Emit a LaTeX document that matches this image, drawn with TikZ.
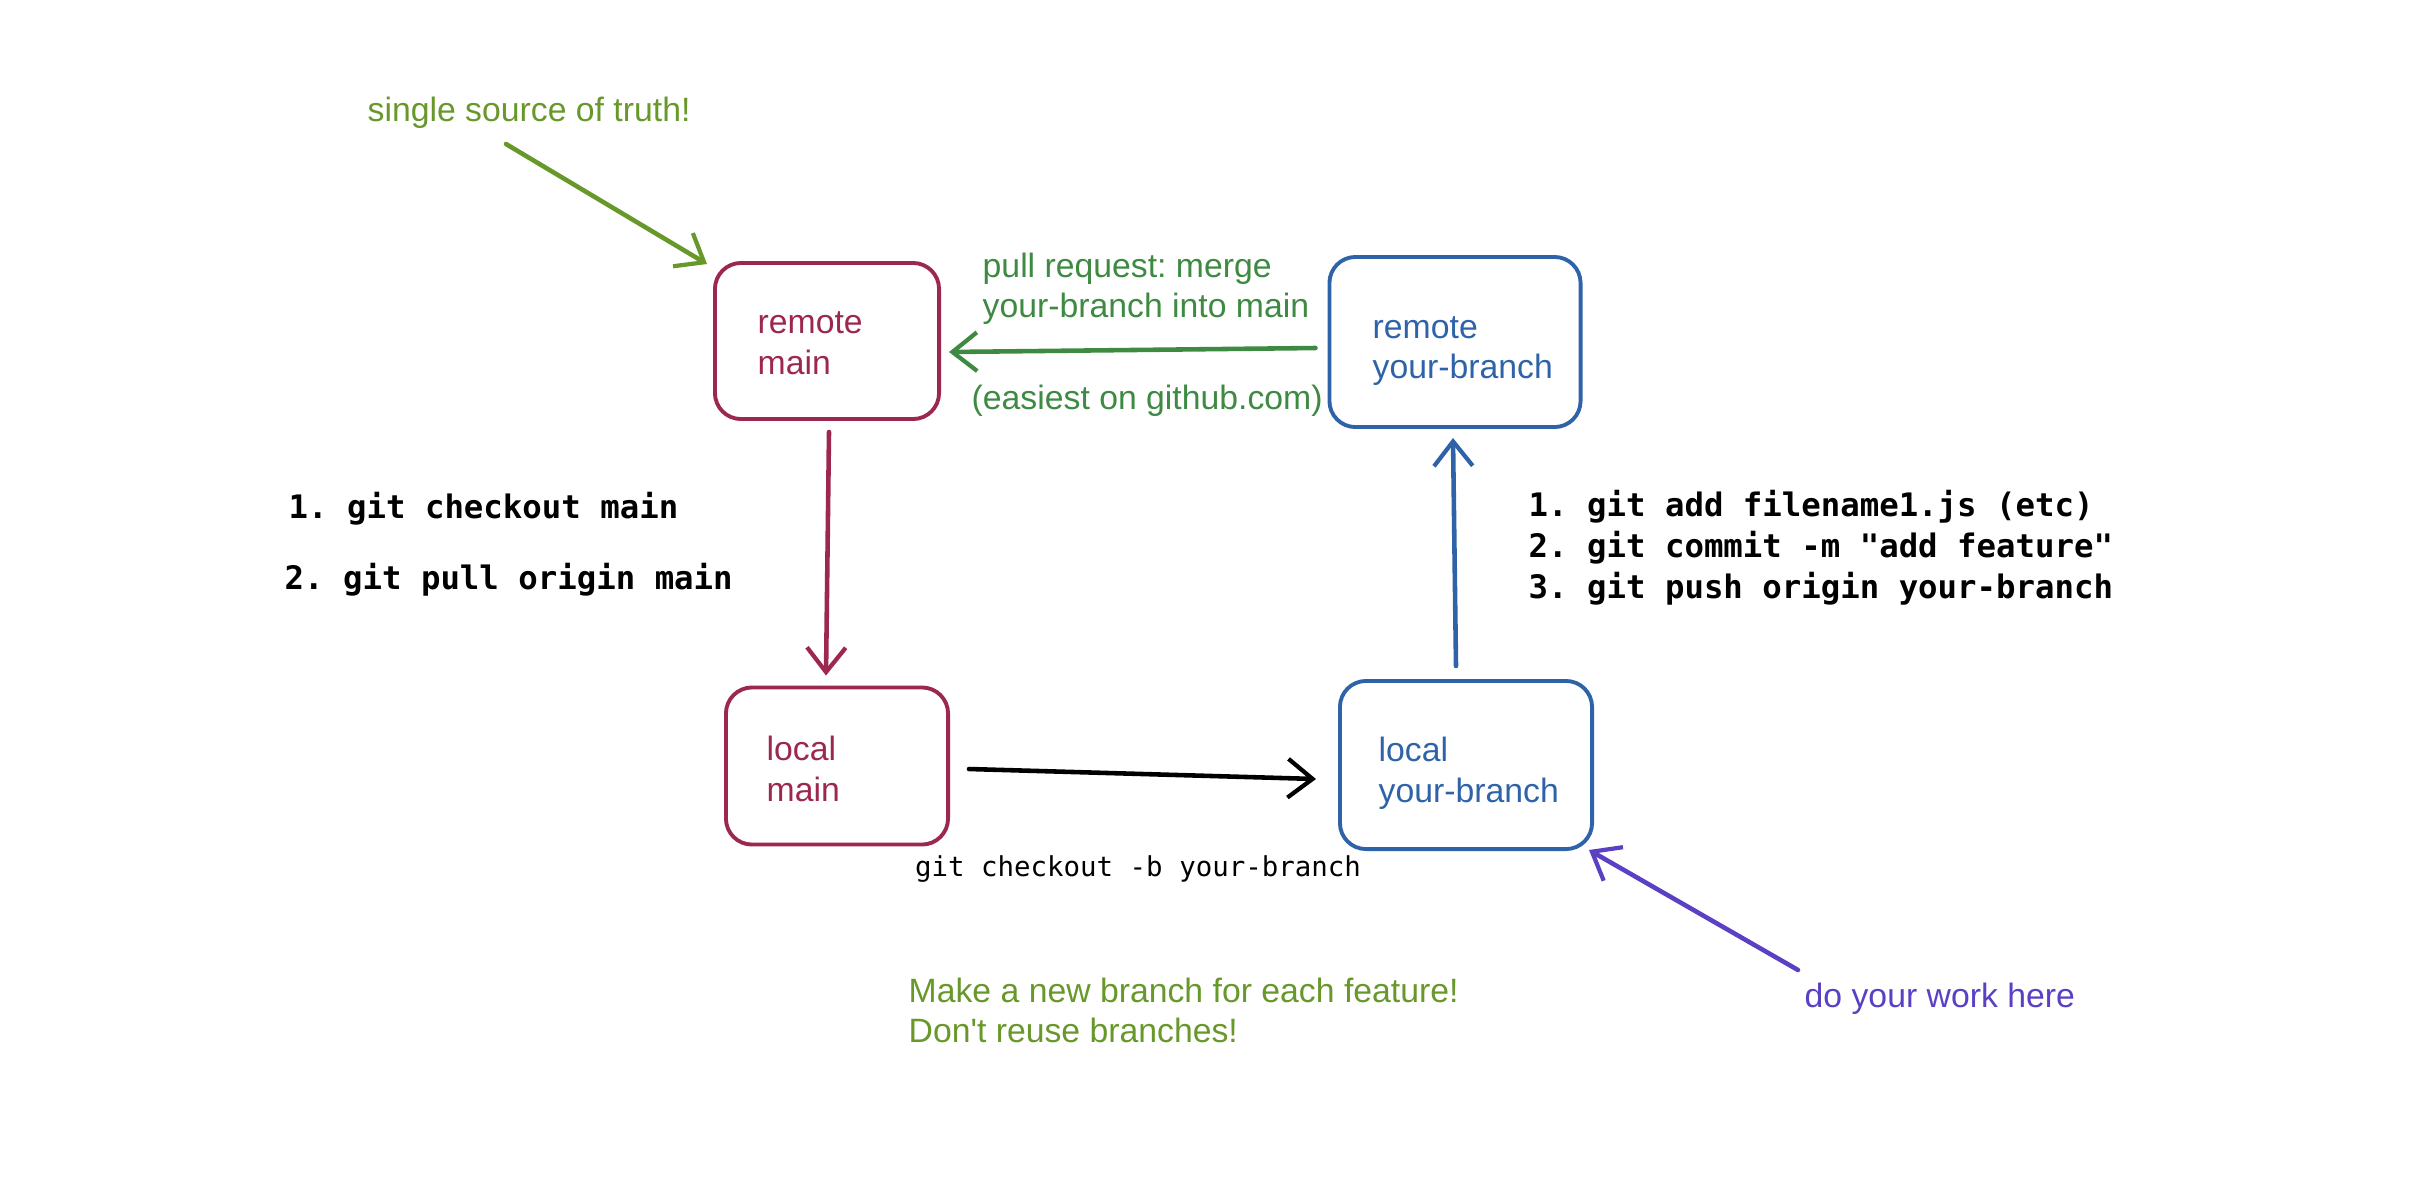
\documentclass[tikz,border=0pt]{standalone}
\usepackage{fontspec}
\setmainfont{Liberation Sans}
\newfontfamily\monofont{DejaVu Sans Mono}
\usetikzlibrary{arrows.meta}
\definecolor{crim}{RGB}{156,40,80}
\definecolor{bluec}{RGB}{46,99,168}
\definecolor{prgreen}{RGB}{62,138,66}
\definecolor{olive}{RGB}{104,152,42}
\definecolor{purp}{RGB}{92,64,196}
\frenchspacing
\begin{document}
\begin{tikzpicture}[x=0.01cm,y=-0.01cm,
  box/.style={draw, rounded corners=0.26cm, line width=1.1pt, inner sep=0pt},
  lbl/.style={anchor=west, align=left, inner sep=0pt, font=\fontsize{9.6}{11.6}\selectfont},
  note/.style={anchor=west, align=left, inner sep=0pt, font=\fontsize{9.6}{11.4}\selectfont},
  code/.style={anchor=west, align=left, inner sep=0pt, font=\monofont\bfseries\fontsize{9.2}{11.7}\selectfont},
  conn/.style={line width=1.3pt, line cap=round, -{Straight Barb[length=7pt,width=11pt,line width=1.2pt]}},
]
\useasboundingbox (0,0) rectangle (2426,1196);

% boxes
\node[box, crim, minimum width=2.24cm, minimum height=1.56cm] (rm) at (827,341) {};
\node[lbl, crim] (rmt) at (757,343) {remote\\main};
\node[box, bluec, minimum width=2.51cm, minimum height=1.70cm] (rb) at (1455,342) {};
\node[lbl, bluec] (rbt) at (1372,351) {remote\\your-branch};
\node[box, crim, minimum width=2.22cm, minimum height=1.57cm] (lm) at (837,766) {};
\node[lbl, crim] (lmt) at (766,769) {local\\main};
\node[box, bluec, minimum width=2.52cm, minimum height=1.68cm] (lb) at (1466,765) {};
\node[lbl, bluec] (lbt) at (1378,773) {local\\your-branch};

% annotations
\node[note, olive] (sst) at (367,113) {single source of truth!};
\coordinate (sstart) at (506,144);
\draw[conn, olive] (sstart) -- ([shift={(-6,3)}]rm.north west);

\node[note, prgreen] (pr) at (982,289) {pull request: merge\\your-branch into main};
\node[note, prgreen] (gh) at (971,401) {(easiest on github.com)};
\draw[conn, prgreen] ([shift={(-12,6)}]rb.west) -- ([shift={(8,11)}]rm.east);

\node[code] (lc1) at (288,509) {1. git checkout main};
\node[code] (lc2) at (284,580) {2. git pull origin main};
\draw[conn, crim] ([shift={(2,11)}]rm.south) -- ([shift={(-11,-10)}]lm.north);

\node[code] (rc) at (1528,548) {1. git add filename1.js (etc)\\2. git commit -m "add feature"\\3. git push origin your-branch};
\draw[conn, bluec] ([shift={(-10,-13)}]lb.north) -- ([shift={(-2,9)}]rb.south);

\draw[conn, black] ([shift={(19,3)}]lm.east) -- ([shift={(-22,14)}]lb.west);
\node[inner sep=0pt, font=\monofont\fontsize{7.8}{9}\selectfont] (ck) at (1138,869) {git checkout -b your-branch};

\node[note, olive] (mk) at (908,1010) {Make a new branch for each feature!\\Don\textquotesingle t reuse branches!};
\node[note, purp] (dw) at (1804,999) {do your work here};
\coordinate (dstart) at (1798,970);
\draw[conn, purp] (dstart) -- ([shift={(-5,-1)}]lb.south east);
\end{tikzpicture}
\end{document}
